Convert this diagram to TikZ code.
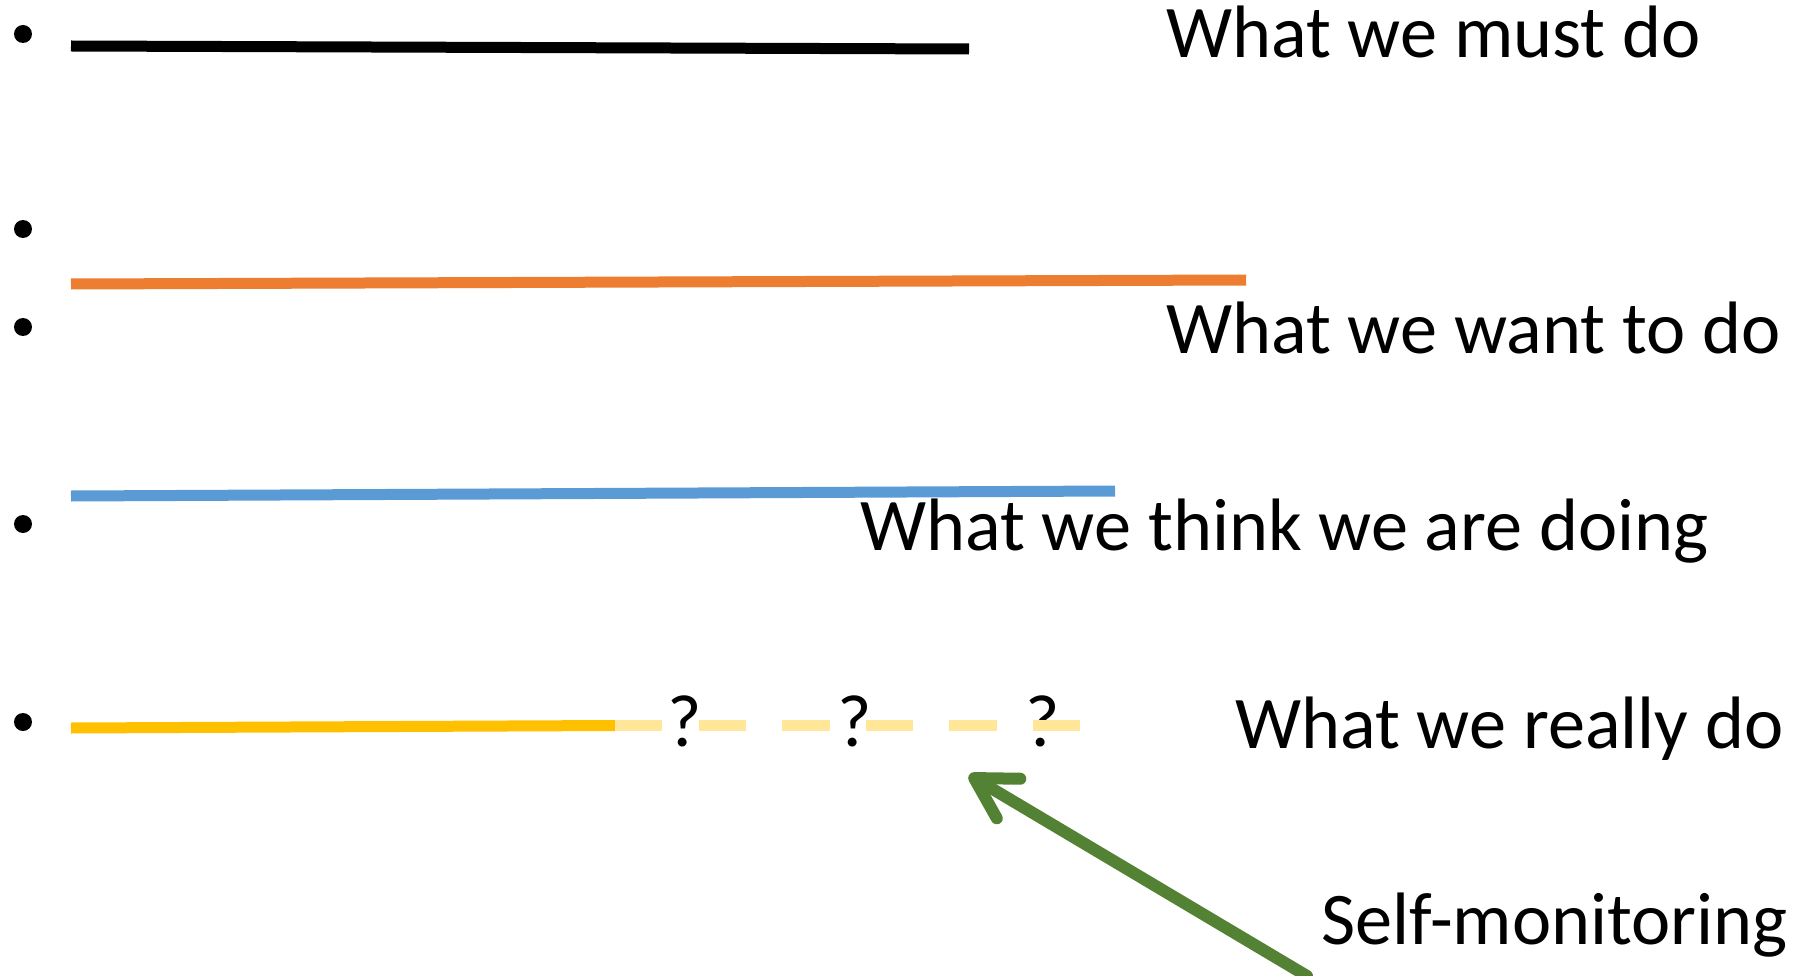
\documentclass[tikz,border=0pt]{standalone}
\usepackage{fontspec}
\setmainfont{Carlito}
\usetikzlibrary{arrows.meta}
\definecolor{cOrange}{HTML}{ED7D31}
\definecolor{cBlue}{HTML}{5B9BD5}
\definecolor{cGold}{HTML}{FFC000}
\definecolor{cLightGold}{HTML}{FFE699}
\definecolor{cGreen}{HTML}{548235}
\begin{document}
\begin{tikzpicture}[x=1pt,y=-1pt,
  bar/.style={line width=11pt},
  lbl/.style={anchor=base west, inner sep=0pt, font=\fontsize{74.3}{88}\selectfont},
  qm/.style={anchor=base, inner sep=0pt, font=\fontsize{74.3}{88}\selectfont},
  bul/.style={circle, fill=black, inner sep=0pt, minimum size=18pt}]
\useasboundingbox (0,0) rectangle (1798,976);
% bullets
\node[bul] (b1) at (23,34) {};
\node[bul] (b2) at (23,229) {};
\node[bul] (b3) at (23,327) {};
\node[bul] (b4) at (23,524) {};
\node[bul] (b5) at (23,722) {};
% lines
\coordinate (k1) at (71,46);
\coordinate (k2) at (969,49);
\draw[bar,black] (k1) -- (k2);
\coordinate (o1) at (71,284);
\coordinate (o2) at (1246,280);
\draw[bar,cOrange] (o1) -- (o2);
\coordinate (u1) at (71,496);
\coordinate (u2) at (1115,491);
\draw[bar,cBlue] (u1) -- (u2);
% question marks
\node[qm] (q1) at (685,746) {?};
\node[qm] (q2) at (855,746) {?};
\node[qm] (q3) at (1043,746) {?};
\coordinate (y1) at (71,728);
\coordinate (y2) at (615,725.5);
\coordinate (y3) at (1080,725.5);
\draw[line width=11pt,cGold] (y1) -- (y2);
\draw[line width=11pt,cLightGold,dash pattern=on 47.4pt off 36.2pt] (y2) -- (y3);
% labels
\node[lbl] (must) at (1166,58) {What we must do};
\node[lbl] (want) at (1166,353) {What we want to do};
\node[lbl] (think) at (860,550) {What we think we are doing};
\node[lbl] (really) at (1235,748) {What we really do};
\node[lbl] (self) at (1321,944) {Self-monitoring};
% arrow
\coordinate (a0) at (1307,976);
\coordinate (a1) at (969,775);
\draw[cGreen, line width=12pt, line cap=round, -{Straight Barb[length=40pt,width=46pt,round]}] (a0) -- (a1);
\end{tikzpicture}
\end{document}
